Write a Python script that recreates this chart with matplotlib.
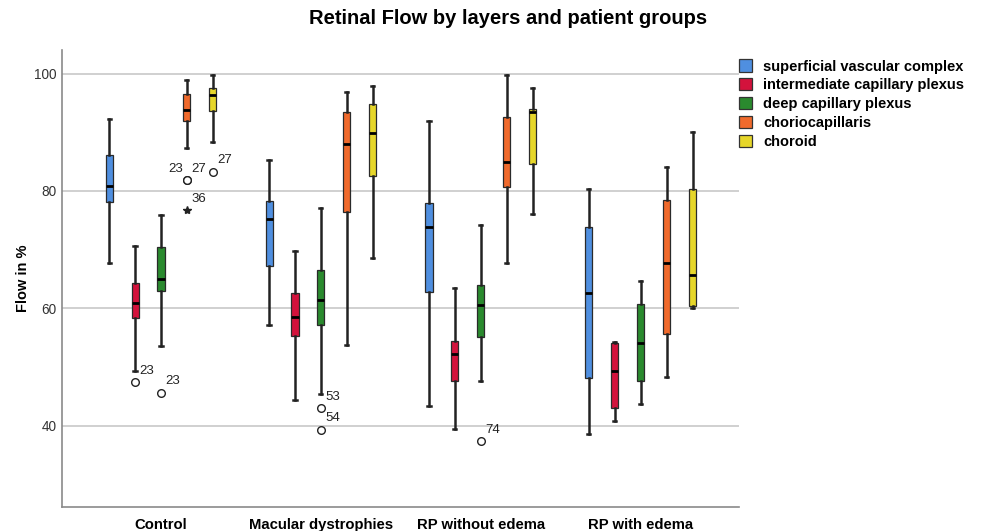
import matplotlib
matplotlib.use("Agg")
import matplotlib.pyplot as plt
from matplotlib.patches import Patch

plt.rcParams["font.family"] = ["Liberation Sans", "DejaVu Sans"]

groups = ["Control", "Macular dystrophies", "RP without edema", "RP with edema"]
layers = [
    "superficial vascular complex",
    "intermediate capillary plexus",
    "deep capillary plexus",
    "choriocapillaris",
    "choroid",
]
colors = ["#4f8fe0", "#d3123c", "#2a8a2e", "#f06a2c", "#e6d62a"]

# whisker low, q1, median, q3, whisker high -- one row per group
svc = [
    [67.7, 78.1, 80.8, 86.2, 92.3],
    [57.2, 67.2, 75.3, 78.3, 85.2],
    [43.4, 62.8, 73.8, 78.0, 92.0],
    [38.7, 48.1, 62.6, 73.9, 80.4],
]
icp = [
    [49.3, 58.4, 60.9, 64.3, 70.7],
    [44.4, 55.3, 58.5, 62.6, 69.8],
    [39.4, 47.6, 52.3, 54.4, 63.5],
    [40.8, 43.0, 49.4, 54.2, 54.3],
]
dcp = [
    [53.6, 63.0, 65.1, 70.4, 75.9],
    [45.5, 57.2, 61.5, 66.5, 77.1],
    [47.6, 55.1, 60.6, 64.0, 74.2],
    [43.7, 47.6, 54.2, 60.7, 64.6],
]
cc = [
    [87.4, 91.9, 93.8, 96.5, 98.9],
    [53.8, 76.4, 88.0, 93.5, 96.9],
    [67.8, 80.6, 84.9, 92.6, 99.7],
    [48.4, 55.6, 67.8, 78.4, 84.0],
]
choroid = [
    [88.4, 93.7, 96.3, 97.6, 99.8],
    [68.6, 82.6, 89.8, 94.8, 97.8],
    [76.0, 84.6, 93.5, 94.0, 97.5],
    [60.0, 60.4, 65.7, 80.3, 90.0],
]

# outliers: group index, layer index, value, case label, label side, marker
out_group = [0, 0, 0, 0, 0, 0, 1, 1, 2]
out_layer = [1, 2, 3, 3, 3, 4, 2, 2, 2]
out_value = [47.4, 45.6, 81.8, 81.8, 76.7, 83.3, 43.0, 39.3, 37.4]
out_label = ["23", "23", "23", "27", "36", "27", "53", "54", "74"]
out_side = ["r", "r", "l", "r", "r", "r", "r", "r", "r"]
out_marker = ["o", "o", "o", "o", "*", "o", "o", "o", "o"]

step = 0.162
box_w = 0.044


def box_x(g, k):
    return g + (k - 2) * step


fig = plt.figure(figsize=(9.81, 5.31), dpi=100)
ax = fig.add_axes([0.0632, 0.0452, 0.69, 0.8606])

for k, table in enumerate([svc, icp, dcp, cc, choroid]):
    stats = []
    for row in table:
        stats.append({"whislo": row[0], "q1": row[1], "med": row[2],
                      "q3": row[3], "whishi": row[4], "fliers": []})
    pos = [box_x(g, k) for g in range(len(groups))]
    ax.bxp(stats, positions=pos, widths=box_w, patch_artist=True,
           showfliers=False, capwidths=0.02,
           boxprops=dict(facecolor=colors[k], edgecolor="#2a2a2a", linewidth=0.9),
           whiskerprops=dict(color="#222222", linewidth=1.8),
           capprops=dict(color="#222222", linewidth=1.8),
           medianprops=dict(color="black", linewidth=2.0))

for g, k, v, lab, side, m in zip(out_group, out_layer, out_value, out_label, out_side, out_marker):
    x = box_x(g, k)
    if m == "o":
        ax.plot(x, v, "o", ms=5.5, mfc="white", mec="#222222", mew=1.0)
    else:
        ax.plot(x, v, "*", ms=6, color="#222222")
    if side == "l":
        ax.annotate(lab, (x, v), xytext=(-3, 4), textcoords="offset points",
                    ha="right", va="bottom", fontsize=9.5, color="#222222")
    else:
        ax.annotate(lab, (x, v), xytext=(3, 4), textcoords="offset points",
                    ha="left", va="bottom", fontsize=9.5, color="#222222")

ax.set_xlim(-0.619, 3.614)
ax.set_ylim(26.2, 104.0)
ax.set_yticks([40, 60, 80, 100])
ax.set_xticks(range(len(groups)))
ax.set_xticklabels(groups, fontsize=10.7, fontweight="bold")
ax.tick_params(axis="x", length=0, pad=8)
ax.tick_params(axis="y", length=0, pad=4, labelsize=9.8, labelcolor="#333333")
ax.yaxis.grid(True, color="#c8c8c8", linewidth=1.2)
ax.set_axisbelow(True)
for s in ["top", "right"]:
    ax.spines[s].set_visible(False)
for s in ["left", "bottom"]:
    ax.spines[s].set_color("#8a8a8a")
    ax.spines[s].set_linewidth(1.2)

ax.set_ylabel("Flow in %", fontsize=10.5, fontweight="bold", labelpad=3)

fig.text(0.518, 0.966, "Retinal Flow by layers and patient groups",
         ha="center", va="center", fontsize=14.5, fontweight="bold")

handles = [Patch(facecolor=c, edgecolor="#333333", linewidth=0.9) for c in colors]
fig.legend(handles, layers, loc="upper left", bbox_to_anchor=(0.7533, 0.888),
           frameon=False, borderpad=0, borderaxespad=0, handlelength=0.9,
           handleheight=0.9, handletextpad=0.75, labelspacing=0.33,
           prop={"size": 10.5, "weight": "bold"})

fig.savefig("out.png", dpi=100)
